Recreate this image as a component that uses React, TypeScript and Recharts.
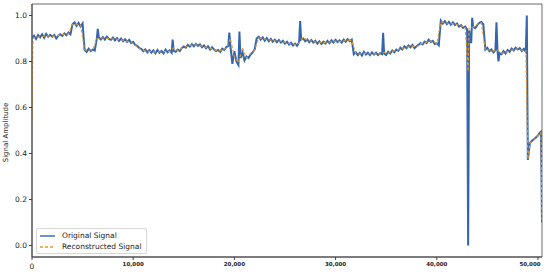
import React from 'react';
import { LineChart, Line, XAxis, YAxis, ReferenceArea } from 'recharts';

// Sample spacing of the stored points (samples per stored value)
const ORIGINAL_STEP = 200;
const RECON_STEP = 400;

// Original signal, one value every 200 samples (0 .. 50,400)
const originalValues: number[] = [
  0.900, 0.912, 0.898, 0.915, 0.905, 0.918, 0.903, 0.920, 0.908, 0.916,
  0.908, 0.915, 0.900, 0.912, 0.918, 0.911, 0.922, 0.914, 0.926, 0.918,
  0.962, 0.970, 0.955, 0.968, 0.952, 0.965, 0.850, 0.842, 0.856, 0.845,
  0.852, 0.848, 0.898, 0.905, 0.896, 0.906, 0.895, 0.908, 0.898, 0.894,
  0.904, 0.892, 0.902, 0.890, 0.900, 0.888, 0.897, 0.885, 0.894, 0.880,
  0.885, 0.872, 0.868, 0.858, 0.855, 0.845, 0.852, 0.840, 0.850, 0.838,
  0.848, 0.836, 0.850, 0.838, 0.846, 0.835, 0.852, 0.840, 0.848, 0.838,
  0.846, 0.842, 0.852, 0.845, 0.858, 0.865, 0.860, 0.872, 0.865, 0.875,
  0.866, 0.876, 0.868, 0.874, 0.862, 0.870, 0.858, 0.866, 0.852, 0.862,
  0.852, 0.845, 0.850, 0.842, 0.856, 0.850, 0.862, 0.868, 0.870, 0.790,
  0.845, 0.800, 0.785, 0.815, 0.840, 0.805, 0.822, 0.815, 0.830, 0.840,
  0.852, 0.900, 0.908, 0.895, 0.905, 0.890, 0.902, 0.888, 0.898, 0.886,
  0.895, 0.884, 0.893, 0.882, 0.890, 0.878, 0.886, 0.874, 0.882, 0.870,
  0.878, 0.868, 0.885, 0.895, 0.900, 0.888, 0.896, 0.884, 0.893, 0.882,
  0.890, 0.878, 0.888, 0.876, 0.886, 0.878, 0.890, 0.880, 0.892, 0.883,
  0.894, 0.884, 0.892, 0.882, 0.895, 0.886, 0.897, 0.888, 0.895, 0.832,
  0.840, 0.828, 0.838, 0.826, 0.842, 0.830, 0.838, 0.828, 0.840, 0.830,
  0.838, 0.828, 0.836, 0.832, 0.835, 0.828, 0.842, 0.835, 0.848, 0.840,
  0.852, 0.846, 0.860, 0.852, 0.866, 0.858, 0.870, 0.862, 0.872, 0.858,
  0.866, 0.872, 0.880, 0.874, 0.886, 0.880, 0.895, 0.885, 0.890, 0.876,
  0.880, 0.870, 0.978, 0.965, 0.975, 0.962, 0.972, 0.960, 0.970, 0.958,
  0.965, 0.952, 0.958, 0.946, 0.952, 0.940, 0.935, 0.880, 0.950, 0.945,
  0.958, 0.968, 0.972, 0.962, 0.852, 0.860, 0.845, 0.852, 0.840, 0.850,
  0.850, 0.836, 0.832, 0.845, 0.835, 0.850, 0.842, 0.856, 0.848, 0.860,
  0.852, 0.858, 0.846, 0.855, 0.842, 0.372, 0.445, 0.455, 0.462, 0.470,
  0.478, 0.492, 0.100,
];

// Narrow spikes and sharp edges of the original signal, between the regular points
const originalExtraSamples: number[] = [6500, 13900, 19500, 20500, 26500, 34700, 43100, 43500, 45900, 46100, 48900, 50300];
const originalExtraValues: number[] = [0.942, 0.895, 0.926, 0.930, 0.976, 0.925, 0.000, 0.990, 0.970, 0.800, 1.000, 0.495];

// Reconstructed signal, one value every 400 samples (0 .. 50,400)
const reconstructedValues: number[] = [
  0.550, 0.905, 0.908, 0.910, 0.912, 0.910, 0.912, 0.915, 0.918, 0.920,
  0.962, 0.962, 0.958, 0.850, 0.850, 0.850, 0.898, 0.902, 0.902, 0.900,
  0.898, 0.896, 0.894, 0.890, 0.886, 0.878, 0.863, 0.850, 0.846, 0.844,
  0.842, 0.843, 0.841, 0.844, 0.843, 0.860, 0.848, 0.856, 0.864, 0.870,
  0.871, 0.871, 0.866, 0.862, 0.858, 0.851, 0.847, 0.850, 0.858, 0.900,
  0.820, 0.795, 0.860, 0.815, 0.835, 0.850, 0.902, 0.900, 0.895, 0.893,
  0.890, 0.888, 0.886, 0.880, 0.878, 0.874, 0.880, 0.905, 0.892, 0.889,
  0.885, 0.883, 0.882, 0.884, 0.886, 0.889, 0.887, 0.890, 0.892, 0.892,
  0.834, 0.832, 0.836, 0.834, 0.834, 0.833, 0.832, 0.840, 0.835, 0.844,
  0.848, 0.855, 0.860, 0.864, 0.867, 0.862, 0.877, 0.880, 0.890, 0.888,
  0.878, 0.972, 0.968, 0.966, 0.964, 0.960, 0.955, 0.950, 0.945, 0.950,
  0.962, 0.968, 0.852, 0.850, 0.846, 0.850, 0.836, 0.840, 0.846, 0.852,
  0.855, 0.850, 0.848, 0.445, 0.458, 0.478, 0.100,
];

// Sharp edges of the reconstructed signal, between the regular points
const reconstructedExtraSamples: number[] = [100, 43100, 49000, 50300];
const reconstructedExtraValues: number[] = [0.902, 0.757, 0.375, 0.490];

const xTicks = [0, 10000, 20000, 30000, 40000, 50000];
const yTicks = [0, 0.2, 0.4, 0.6, 0.8, 1.0];
const seriesNames = ['Original Signal', 'Reconstructed Signal'];
const yAxisTitle = 'Signal Amplitude';

const X_MAX = 50400;
const Y_DOMAIN: [number, number] = [-0.05, 1.05];

const BLUE = '#3466b0';
const ORANGE = '#e39a2a';
const FONT = '"DejaVu Sans", sans-serif';

const bySample = (a: { s: number }, b: { s: number }) => a.s - b.s;

const originalData = [
  ...originalValues.map((v, i) => ({ s: i * ORIGINAL_STEP, v })),
  ...originalExtraSamples.map((s, i) => ({ s, v: originalExtraValues[i] })),
].sort(bySample);

const reconstructedData = [
  ...reconstructedValues.map((v, i) => ({ s: i * RECON_STEP, v })),
  ...reconstructedExtraSamples.map((s, i) => ({ s, v: reconstructedExtraValues[i] })),
].sort(bySample);

const XTick = (props: any) => {
  const { x, y, payload } = props;
  if (payload.value === 0) {
    return (
      <text x={x} y={y + 7} textAnchor="middle" fontSize={7.5} fill="#222" fontFamily={FONT}>
        0
      </text>
    );
  }
  return (
    <text x={x} y={y + 3.5} textAnchor="middle" fontSize={5.5} fontWeight="bold" fill="#222" fontFamily={FONT}>
      {Number(payload.value).toLocaleString('en-US')}
    </text>
  );
};

const YTick = (props: any) => {
  const { x, y, payload } = props;
  return (
    <text x={x} y={y + 2.7} textAnchor="end" fontSize={7.5} fill="#222" fontFamily={FONT}>
      {Number(payload.value).toFixed(1)}
    </text>
  );
};

const YTitle = (props: any) => {
  const vb = props.viewBox || { x: 0, y: 4, width: 32, height: 253 };
  const cx = vb.x + 8;
  const cy = vb.y + vb.height / 2 + 2;
  return (
    <text
      x={cx}
      y={cy}
      transform={`rotate(-90, ${cx}, ${cy})`}
      textAnchor="middle"
      fontSize={7}
      fill="#222"
      fontFamily={FONT}
    >
      {yAxisTitle}
    </text>
  );
};

const LegendBox = () => (
  <div
    style={{
      position: 'absolute',
      left: 36,
      top: 228,
      border: '1px solid #d8d8d8',
      borderRadius: 2,
      background: 'rgba(255,255,255,0.85)',
      padding: '1px 4px 1px 3px',
      fontFamily: FONT,
      fontSize: 7.5,
      color: '#222',
      lineHeight: '11px',
    }}
  >
    {seriesNames.map((name, i) => (
      <div key={name} style={{ display: 'flex', alignItems: 'center' }}>
        <svg width={16} height={6} style={{ marginRight: 6 }}>
          <line
            x1={0}
            y1={3}
            x2={15}
            y2={3}
            stroke={i === 0 ? BLUE : ORANGE}
            strokeWidth={1.4}
            strokeDasharray={i === 0 ? undefined : '3 2'}
          />
        </svg>
        <span>{name}</span>
      </div>
    ))}
  </div>
);

export default function App() {
  return (
    <div style={{ position: 'absolute', left: 0, top: 0, width: 550, height: 272, background: '#fff' }}>
      <LineChart width={550} height={272} margin={{ top: 4, right: 8, bottom: 0, left: 0 }}>
        <XAxis
          dataKey="s"
          type="number"
          domain={[0, X_MAX]}
          ticks={xTicks}
          tick={<XTick />}
          tickSize={3}
          tickMargin={2}
          height={15}
          stroke="#444"
          allowDataOverflow
        />
        <YAxis
          type="number"
          domain={Y_DOMAIN}
          ticks={yTicks}
          tick={<YTick />}
          tickSize={3}
          tickMargin={2}
          width={32}
          stroke="#444"
          allowDataOverflow
          label={<YTitle />}
        />
        <ReferenceArea
          x1={0}
          x2={X_MAX}
          y1={Y_DOMAIN[0]}
          y2={Y_DOMAIN[1]}
          fill="none"
          stroke="#444"
          strokeWidth={0.8}
          ifOverflow="visible"
        />
        <Line
          data={originalData}
          dataKey="v"
          name={seriesNames[0]}
          type="linear"
          stroke={BLUE}
          strokeWidth={2}
          dot={false}
          isAnimationActive={false}
        />
        <Line
          data={reconstructedData}
          dataKey="v"
          name={seriesNames[1]}
          type="linear"
          stroke={ORANGE}
          strokeWidth={1.1}
          strokeDasharray="3 2"
          dot={false}
          isAnimationActive={false}
        />
      </LineChart>
      <LegendBox />
    </div>
  );
}
